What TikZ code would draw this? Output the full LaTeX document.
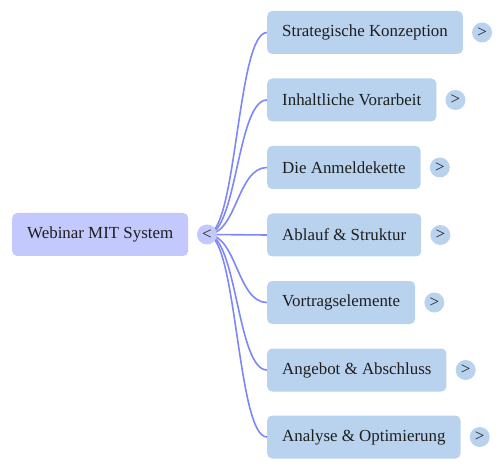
\documentclass[tikz,border=0pt]{standalone}
\usepackage{fontspec}
\setmainfont{Liberation Serif}
\usetikzlibrary{backgrounds,calc}
\definecolor{rootfill}{HTML}{C3C9FC}
\definecolor{childfill}{HTML}{B9D3EF}
\definecolor{edgecol}{HTML}{7D87F7}
\definecolor{txt}{HTML}{1E1E1E}
\begin{document}
\begin{tikzpicture}[x=1pt,y=-1pt,
  box/.style={rounded corners=5pt, inner xsep=15pt, inner ysep=0pt, minimum height=43pt,
    anchor=west, text=txt, font=\fontsize{16.9}{20}\selectfont},
  rootbox/.style={box, fill=rootfill},
  childbox/.style={box, fill=childfill},
  togglec/.style={circle, inner sep=0pt, minimum size=20pt, text=txt,
    font=\fontsize{16.9}{18}\selectfont},
  edge/.style={draw=edgecol, line width=1.6pt}]
\useasboundingbox (0,0) rectangle (503,470);
\node[rootbox] (root) at (12,234.5) {Webinar MIT System};
\node[togglec, fill=rootfill] (rootc) at (207,234.5) {<};
\node[childbox] (c1) at (267,32.5) {Strategische Konzeption};
\node[childbox] (c2) at (267,100) {Inhaltliche Vorarbeit};
\node[childbox] (c3) at (267,167.5) {Die Anmeldekette};
\node[childbox] (c4) at (267,235) {Ablauf \& Struktur};
\node[childbox] (c5) at (267,302.5) {Vortragselemente};
\node[childbox] (c6) at (267,370) {Angebot \& Abschluss};
\node[childbox] (c7) at (267,437) {Analyse \& Optimierung};
\foreach \i in {1,...,7}{
  \node[togglec, fill=childfill] (c\i t) at ([xshift=19pt]c\i.east) {>};
}
\begin{scope}[on background layer]
\foreach \i in {1,...,7}{
  \draw[edge] (rootc.center) .. controls ($(rootc.center)+(30,0)$) and ($(c\i.west)+(-30,0)$) .. (c\i.west);
}
\end{scope}
\end{tikzpicture}
\end{document}
